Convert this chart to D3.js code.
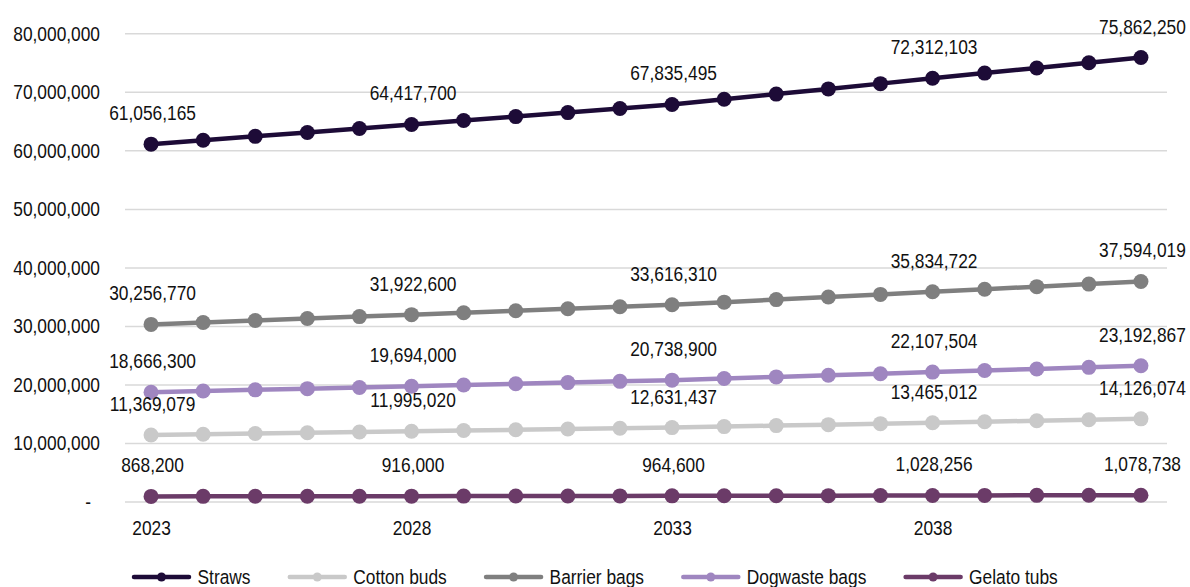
<!DOCTYPE html>
<html>
<head>
<meta charset="utf-8">
<script src="https://cdn.jsdelivr.net/npm/d3@7"></script>
<style>
  html, body { margin: 0; padding: 0; background: #fff; }
  svg { display: block; font-family: "Liberation Sans", Arial, sans-serif; }
</style>
</head>
<body>
<svg id="chart" width="1190" height="587"></svg>
<script>
// Years on the x axis
const years = ["2023","2024","2025","2026","2027","2028","2029","2030","2031","2032",
               "2033","2034","2035","2036","2037","2038","2039","2040","2041","2042"];
const yearTicks = ["2023","2028","2033","2038"];
const yTicks = [0, 10000000, 20000000, 30000000, 40000000, 50000000, 60000000, 70000000, 80000000];

// Projected item counts per year
const straws = [61056165, 61720000, 62390000, 63060000, 63740000, 64417700, 65090000, 65770000, 66450000, 67140000,
                67835495, 68720000, 69610000, 70500000, 71400000, 72312103, 73200000, 74080000, 74970000, 75862250];
const cottonBuds = [11369079, 11494000, 11620000, 11745000, 11870000, 11995020, 12122000, 12250000, 12377000, 12504000,
                    12631437, 12798000, 12965000, 13131000, 13298000, 13465012, 13630000, 13795000, 13960000, 14126074];
const barrierBags = [30256770, 30590000, 30920000, 31260000, 31590000, 31922600, 32260000, 32600000, 32940000, 33280000,
                     33616310, 34060000, 34500000, 34950000, 35390000, 35834722, 36270000, 36710000, 37150000, 37594019];
const dogwasteBags = [18666300, 18870000, 19080000, 19280000, 19490000, 19694000, 19900000, 20110000, 20320000, 20530000,
                      20738900, 21010000, 21290000, 21560000, 21830000, 22107504, 22380000, 22650000, 22920000, 23192867];
const gelatoTubs = [868200, 877800, 887300, 896900, 906400, 916000, 925700, 935400, 945100, 954900,
                    964600, 977300, 990000, 1002700, 1015500, 1028256, 1040900, 1053500, 1066100, 1078738];

// Years that carry a value label
const labelledYears = ["2023","2028","2033","2038","2042"];

const seriesNames = ["Straws", "Cotton buds", "Barrier bags", "Dogwaste bags", "Gelato tubs"];
const seriesValues = [straws, cottonBuds, barrierBags, dogwasteBags, gelatoTubs];
const seriesColors = ["#1d0b37", "#c9c9c9", "#7f7f7f", "#9f86c0", "#6b3b68"];

const series = seriesNames.map((name, i) => ({ name, values: seriesValues[i], color: seriesColors[i] }));

const svg = d3.select("#chart");
const plotLeft = 125, plotRight = 1167, plotTop = 33.3, plotBottom = 501.5;
const SX = 0.89;           // horizontal squeeze applied to all text
const FONT = 19.5;

const x = d3.scalePoint().domain(years).range([plotLeft, plotRight]).padding(0.5);
const y = d3.scaleLinear().domain([0, 80000000]).range([plotBottom, plotTop]);
const fmt = d3.format(",");

// Y axis with full-width gridlines
const yAxis = d3.axisLeft(y)
  .tickValues(yTicks)
  .tickSize(-(plotRight - plotLeft))
  .tickFormat(d => d === 0 ? "-" : fmt(d));

const gy = svg.append("g").attr("transform", `translate(${plotLeft},0)`).call(yAxis);
gy.select(".domain").remove();
gy.selectAll(".tick line").attr("stroke", "#d9d9d9").attr("stroke-width", 1.5);
gy.selectAll(".tick text")
  .attr("font-size", FONT)
  .attr("font-family", "'Liberation Sans', Arial, sans-serif")
  .attr("fill", "#111")
  .attr("x", d => (d === 0 ? -34 : -25) / SX)
  .attr("dy", "0.35em")
  .attr("transform", `scale(${SX},1)`);

// X axis: year labels only
const xAxis = d3.axisBottom(x).tickValues(yearTicks).tickSize(0);
const gx = svg.append("g").attr("transform", `translate(0,${plotBottom})`).call(xAxis);
gx.select(".domain").remove();
gx.selectAll(".tick text")
  .attr("font-size", FONT)
  .attr("font-family", "'Liberation Sans', Arial, sans-serif")
  .attr("fill", "#111")
  .attr("y", 34)
  .attr("dy", null)
  .attr("transform", `scale(${SX},1)`)
  .attr("x", 0);

// Lines and markers
const line = d3.line().x((d, i) => x(years[i])).y(d => y(d));

const gSeries = svg.append("g");
series.forEach(s => {
  const g = gSeries.append("g");
  g.append("path")
    .attr("d", line(s.values))
    .attr("fill", "none")
    .attr("stroke", s.color)
    .attr("stroke-width", 4.5)
    .attr("stroke-linejoin", "round");
  g.selectAll("circle")
    .data(s.values)
    .join("circle")
    .attr("cx", (d, i) => x(years[i]))
    .attr("cy", d => y(d))
    .attr("r", 7.5)
    .attr("fill", s.color);
});

// Value labels above selected points
const gLabels = svg.append("g");
series.forEach(s => {
  s.values.forEach((v, i) => {
    if (!labelledYears.includes(years[i])) return;
    gLabels.append("text")
      .attr("transform", `translate(${x(years[i]) + 1.5},${y(v) - 24}) scale(${SX},1)`)
      .attr("text-anchor", "middle")
      .attr("font-size", FONT)
      .attr("fill", "#111")
      .text(fmt(v));
  });
});

// Legend along the bottom
const legend = svg.append("g").attr("transform", "translate(0,577)");
let lx = 134;
series.forEach(s => {
  const item = legend.append("g").attr("transform", `translate(${lx},0)`);
  item.append("line")
    .attr("x1", 0).attr("x2", 55).attr("y1", 0).attr("y2", 0)
    .attr("stroke", s.color).attr("stroke-width", 4.5).attr("stroke-linecap", "round");
  item.append("circle").attr("cx", 27.5).attr("cy", 0).attr("r", 4.5).attr("fill", s.color);
  const t = item.append("text")
    .attr("transform", `translate(63.5,7) scale(${SX},1)`)
    .attr("font-size", FONT)
    .attr("fill", "#111")
    .text(s.name);
  const w = t.node().getComputedTextLength() * SX;
  lx += 63.5 + w + 39.3;
});
</script>
</body>
</html>
